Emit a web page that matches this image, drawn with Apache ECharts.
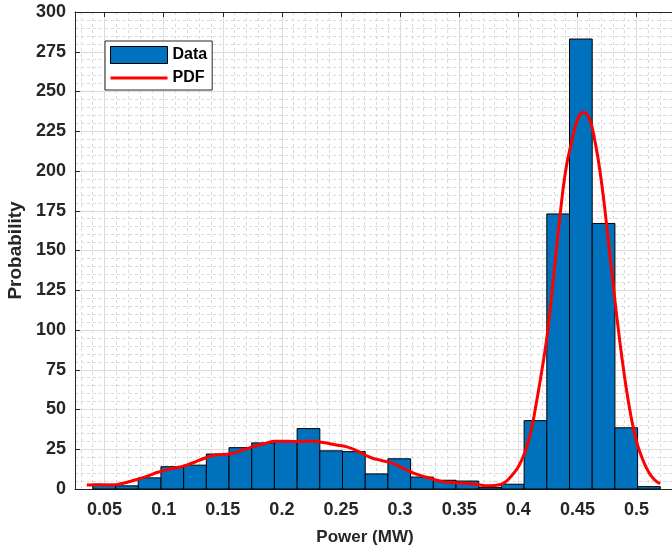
<!DOCTYPE html>
<html>
<head>
<meta charset="utf-8">
<script src="https://cdn.jsdelivr.net/npm/echarts@6/dist/echarts.min.js"></script>
<style>
  html, body { margin: 0; padding: 0; background: #fff; }
  #chart { width: 672px; height: 547px; }
</style>
</head>
<body>
<div id="chart"></div>
<script>
// histogram bin edges (MW) and bar heights
const binEdges = [
  0.0401, 0.0593, 0.0785, 0.0977, 0.1169, 0.1361, 0.1553, 0.1745, 0.1937,
  0.2129, 0.2321, 0.2513, 0.2705, 0.2897, 0.3089, 0.3281, 0.3473, 0.3665,
  0.3857, 0.4049, 0.4241, 0.4433, 0.4625, 0.4817, 0.5009, 0.5201,
];
const binCounts = [
  3, 2, 7, 14, 15, 22, 26, 29, 30, 38, 24, 23.5, 9.5, 19, 7.5, 5.5, 5, 1, 3,
  43, 173, 283, 167, 38.5, 1.5,
];

// fitted PDF curve
const pdfX = [
  0.035, 0.045, 0.055, 0.065, 0.075, 0.085, 0.095, 0.105, 0.115, 0.125,
  0.135, 0.145, 0.155, 0.165, 0.175, 0.185, 0.195, 0.205, 0.215, 0.225,
  0.235, 0.245, 0.255, 0.265, 0.275, 0.285, 0.295, 0.305, 0.315, 0.325,
  0.335, 0.345, 0.355, 0.365, 0.375, 0.385, 0.39, 0.395, 0.4, 0.405,
  0.41, 0.415, 0.42, 0.425, 0.43, 0.435, 0.44, 0.445, 0.45, 0.455,
  0.46, 0.465, 0.47, 0.475, 0.48, 0.485, 0.49, 0.495, 0.5, 0.505,
  0.51, 0.515, 0.52,
];
const pdfY = [
  2.5, 2.6, 2.5, 3.5, 5.5, 7.8, 10.5, 12.5, 14, 16.5,
  19.5, 21.5, 22, 24, 26.5, 28.5, 30, 30, 29.8, 30.2,
  29.2, 27.8, 26.5, 23.5, 19.8, 17.8, 15.8, 12.2, 9, 6.8,
  4.8, 4, 3.6, 2.8, 2, 2.8, 5, 9, 14, 22,
  34, 53, 75, 100, 135, 170, 200, 218, 232, 237,
  233, 218, 195, 164, 130, 98, 70, 47, 30, 19,
  11, 6, 3.3,
];

const xMin = 0.025;
const xMax = 0.53;

const textColor = "#262626";
const font = "'Liberation Sans', Arial, Helvetica, sans-serif";

const chart = echarts.init(document.getElementById("chart"));

const histData = binCounts.map((c, i) => [binEdges[i], binEdges[i + 1], c]);
const pdfData = pdfX.map((x, i) => [x, pdfY[i]]);

const gridMajor = { show: true, lineStyle: { color: "#dcdcdc", width: 1 } };
const gridMinor = { show: true, lineStyle: { color: "#d9d9d9", width: 1, type: [3, 3] } };

const option = {
  animation: false,
  backgroundColor: "#fff",
  textStyle: { fontFamily: font },
  grid: {
    left: 75,
    top: 12,
    right: 0,
    bottom: 58,
    outerBoundsMode: "none",
  },
  legend: {
    orient: "vertical",
    left: 105,
    top: 41,
    padding: [5, 5, 4, 5],
    itemGap: 6,
    itemWidth: 57,
    itemHeight: 17,
    borderColor: textColor,
    borderWidth: 1,
    backgroundColor: "#fff",
    textStyle: {
      color: "#000",
      fontSize: 16,
      fontWeight: "bold",
      fontFamily: font,
    },
    data: [
      {
        name: "Data",
        icon: "rect",
        itemStyle: { color: "#0072BD", borderColor: "#000", borderWidth: 1 },
      },
      {
        name: "PDF",
        icon: "path://M0,0 L100,0 L100,5.5 L0,5.5 Z",
        itemStyle: { color: "#ff0000", borderWidth: 0 },
      },
    ],
  },
  xAxis: [
    {
      type: "value",
      min: xMin,
      max: xMax,
      splitNumber: 10,
      name: "Power (MW)",
      nameLocation: "middle",
      nameGap: 40,
      nameTextStyle: {
        color: textColor,
        fontSize: 17,
        fontWeight: "bold",
        padding: [0, 17, 0, 0],
      },
      axisLine: { show: true, lineStyle: { color: textColor, width: 1 } },
      axisTick: { show: true, inside: true, length: 5, lineStyle: { color: textColor } },
      axisLabel: {
        color: textColor,
        fontSize: 18,
        fontWeight: "bold",
        margin: 12,
        showMinLabel: false,
        showMaxLabel: false,
      },
      splitLine: gridMajor,
      minorTick: { show: false, splitNumber: 5 },
      minorSplitLine: gridMinor,
    },
    {
      type: "value",
      position: "top",
      min: xMin,
      max: xMax,
      splitNumber: 10,
      axisLine: { show: true, lineStyle: { color: textColor, width: 1 } },
      axisTick: { show: true, inside: true, length: 5, lineStyle: { color: textColor } },
      axisLabel: { show: false },
      splitLine: { show: false },
    },
  ],
  yAxis: {
    type: "value",
    min: 0,
    max: 300,
    interval: 25,
    name: "Probability",
    nameLocation: "middle",
    nameGap: 46,
    nameTextStyle: {
      color: textColor,
      fontSize: 19,
      fontWeight: "bold",
    },
    axisLine: { show: true, lineStyle: { color: textColor, width: 1 } },
    axisTick: { show: true, inside: true, length: 5, lineStyle: { color: textColor } },
    axisLabel: {
      color: textColor,
      fontSize: 18,
      fontWeight: "bold",
      margin: 9,
    },
    splitLine: gridMajor,
    minorTick: { show: false, splitNumber: 5 },
    minorSplitLine: gridMinor,
  },
  series: [
    {
      name: "Data",
      type: "custom",
      xAxisIndex: 0,
      itemStyle: { color: "#0072BD" },
      encode: { x: [0, 1], y: 2 },
      renderItem: (params, api) => {
        const top = api.coord([api.value(0), api.value(2)]);
        const bottom = api.coord([api.value(1), 0]);
        return {
          type: "rect",
          shape: {
            x: top[0],
            y: top[1],
            width: bottom[0] - top[0],
            height: bottom[1] - top[1],
          },
          style: { fill: "#0072BD", stroke: "#000", lineWidth: 1 },
        };
      },
      data: histData,
      z: 2,
    },
    {
      name: "PDF",
      type: "line",
      xAxisIndex: 0,
      smooth: true,
      symbol: "none",
      lineStyle: { color: "#ff0000", width: 3 },
      itemStyle: { color: "#ff0000" },
      data: pdfData,
      z: 3,
    },
  ],
};

chart.setOption(option);
</script>
</body>
</html>
